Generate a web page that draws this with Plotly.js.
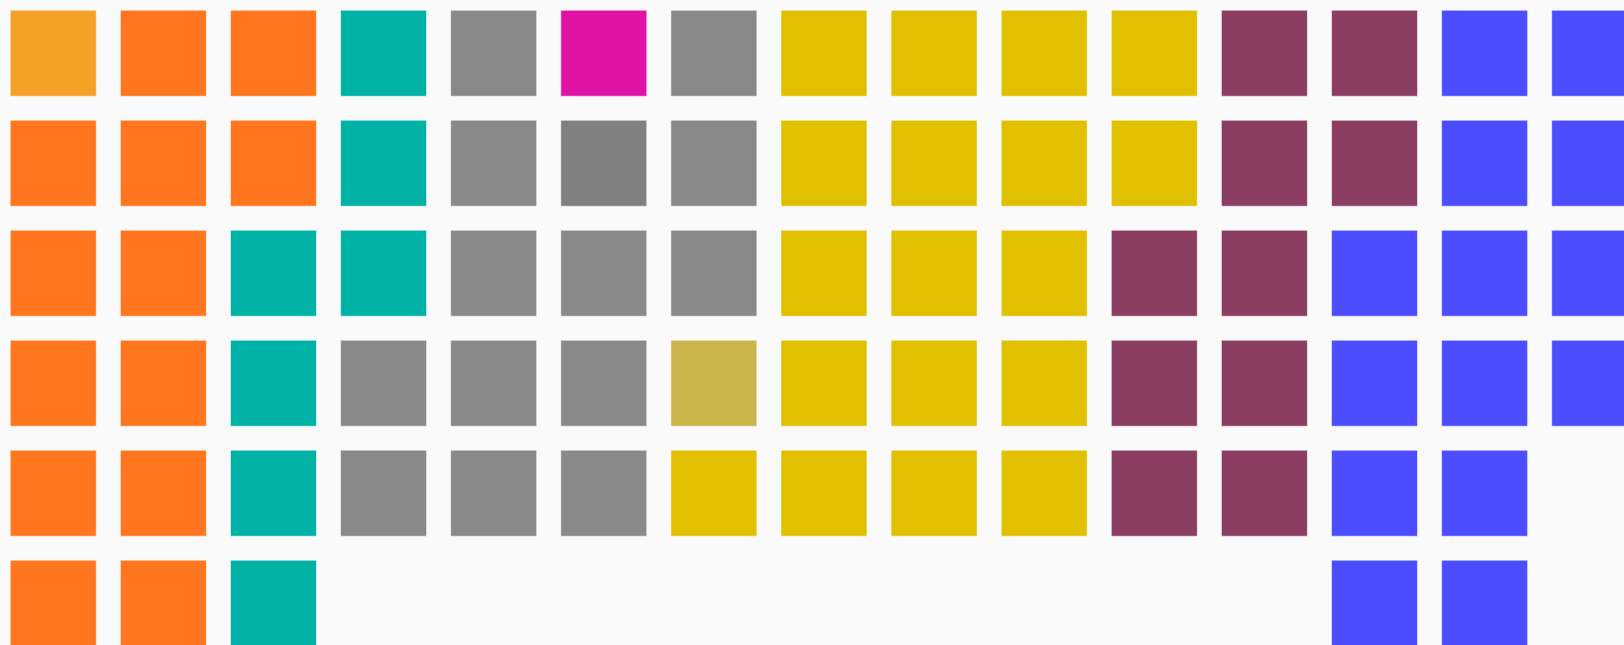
<!DOCTYPE html>
<html>
<head>
<meta charset="utf-8">
<script src="https://cdn.plot.ly/plotly-3.0.1.min.js"></script>
<style>
html, body { margin: 0; padding: 0; background: #fafafa; }
#chart { width: 1624px; height: 645px; }
</style>
</head>
<body>
<div id="chart"></div>
<script>
// Category codes and their colours
var categories = ["L", "O", "T", "G", "M", "D", "V", "Y", "P", "B"];
var categoryNames = ["Group L", "Group O", "Group T", "Group G", "Group M", "Group D", "Group V", "Group Y", "Group P", "Group B"];
var categoryColors = ["#F4A125", "#FF761F", "#00B2A6", "#898989", "#E113A6", "#808080", "#CBB54B", "#E0C000", "#8B3D62", "#4B4DFF"];

// Waffle grid rows (one code per cell, null = empty)
var row0 = ["L","O","O","T","G","M","G","Y","Y","Y","Y","P","P","B","B"];
var row1 = ["O","O","O","T","G","D","G","Y","Y","Y","Y","P","P","B","B"];
var row2 = ["O","O","T","T","G","G","G","Y","Y","Y","P","P","B","B","B"];
var row3 = ["O","O","T","G","G","G","V","Y","Y","Y","P","P","B","B","B"];
var row4 = ["O","O","T","G","G","G","Y","Y","Y","Y","P","P","B","B",null];
var row5 = ["O","O","T",null,null,null,null,null,null,null,null,null,"B","B",null];
var grid = [row0, row1, row2, row3, row4, row5];

var traces = categories.map(function (code, ci) {
  var xs = [], ys = [];
  grid.forEach(function (row, r) {
    row.forEach(function (c, col) {
      if (c === code) { xs.push(col); ys.push(r); }
    });
  });
  return {
    type: "scatter",
    mode: "markers",
    name: categoryNames[ci],
    x: xs,
    y: ys,
    hoverinfo: "name",
    marker: {
      symbol: "square",
      size: 86,
      color: categoryColors[ci],
      line: { width: 1, color: "rgba(255,255,255,0.55)" }
    }
  };
});

var layout = {
  width: 1624,
  height: 645,
  margin: { l: 0, r: 0, t: 0, b: 0, pad: 0 },
  paper_bgcolor: "#fafafa",
  plot_bgcolor: "#fafafa",
  showlegend: false,
  xaxis: {
    range: [-0.4837, 14.266],
    showgrid: false, zeroline: false, showticklabels: false, showline: false, ticks: ""
  },
  yaxis: {
    range: [5.38, -0.484],
    showgrid: false, zeroline: false, showticklabels: false, showline: false, ticks: ""
  }
};

Plotly.newPlot("chart", traces, layout, { displayModeBar: false, staticPlot: true });
</script>
</body>
</html>
